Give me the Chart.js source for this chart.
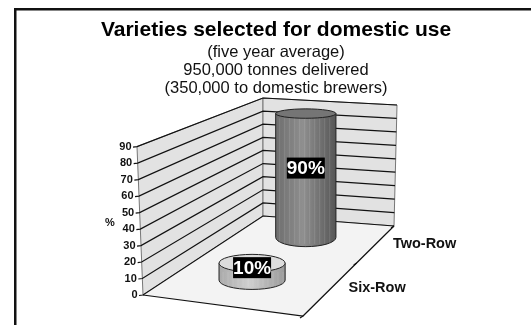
<!DOCTYPE html>
<html>
<head>
<meta charset="utf-8">
<style>
    html, body { margin: 0; padding: 0; background: #fff; }
    #wrap { position: absolute; left: 0; top: 0; width: 531px; height: 325px; }
</style>
<script src="https://cdn.jsdelivr.net/npm/chart.js@4/dist/chart.umd.min.js"></script>
</head>
<body>
<div id="wrap"><canvas id="chart"></canvas></div>
<script>
const categories = ['Six-Row', 'Two-Row'];
const shares = [10, 90];
const valueLabels = ['10%', '90%'];
const yMax = 90;
const yStep = 10;
const titleText = 'Varieties selected for domestic use';
const subtitleLines = ['(five year average)', '950,000 tonnes delivered', '(350,000 to domestic brewers)'];
const yAxisName = '%';

// Box corners of the 3D floor and walls (page pixels)
const backLeft = { x: 263, top: 98, bottom: 216 };
const backRight = { xTop: 397, top: 105, xBottom: 394, bottom: 226 };
const frontRight = { x: 303, y: 316 };
const leftTopX = 137;

function lerp(a, b, t) {
    return a + (b - a) * t;
}

// far half of the floor looks shorter
function warpDepth(d) {
    return d / (d + (1 - d) * 0.695);
}

function floorPoint(chart, lateral, w) {
    const yScale = chart.scales.y;
    const ax = chart.chartArea.left + 2, ay = yScale.getPixelForValue(0);
    const lx = lerp(ax, backLeft.x, w), ly = lerp(ay, backLeft.bottom, w);
    const rx = lerp(frontRight.x, backRight.xBottom, w), ry = lerp(frontRight.y, backRight.bottom, w);
    return { x: lerp(lx, rx, lateral), y: lerp(ly, ry, lateral) };
}

function drawWalls(chart) {
    const ctx = chart.ctx;
    const yScale = chart.scales.y;
    const fx0 = chart.chartArea.left + 2;
    const y0 = yScale.getPixelForValue(0), yTop = yScale.getPixelForValue(yMax);

    // side wall
    ctx.fillStyle = '#e2e2e2';
    ctx.strokeStyle = '#777';
    ctx.lineWidth = 1;
    ctx.beginPath();
    ctx.moveTo(leftTopX, yTop);
    ctx.lineTo(backLeft.x, backLeft.top);
    ctx.lineTo(backLeft.x, backLeft.bottom);
    ctx.lineTo(fx0, y0);
    ctx.closePath();
    ctx.fill();
    ctx.stroke();

    // back wall
    ctx.beginPath();
    ctx.moveTo(backLeft.x, backLeft.top);
    ctx.lineTo(backRight.xTop, backRight.top);
    ctx.lineTo(backRight.xBottom, backRight.bottom);
    ctx.lineTo(backLeft.x, backLeft.bottom);
    ctx.closePath();
    ctx.fill();
    ctx.stroke();

    // floor
    ctx.fillStyle = '#f3f3f3';
    ctx.beginPath();
    ctx.moveTo(fx0, y0);
    ctx.lineTo(frontRight.x, frontRight.y);
    ctx.lineTo(backRight.xBottom, backRight.bottom);
    ctx.lineTo(backLeft.x, backLeft.bottom);
    ctx.closePath();
    ctx.fill();

    // gridlines follow the y scale ticks round both walls
    ctx.strokeStyle = '#111';
    ctx.lineWidth = 1.2;
    yScale.ticks.forEach(tick => {
        const f = tick.value / yMax;
        const lx = lerp(fx0, leftTopX, f);
        const ly = yScale.getPixelForValue(tick.value);
        const by = lerp(backLeft.bottom, backLeft.top, f);
        const rx = lerp(backRight.xBottom, backRight.xTop, f);
        const ry = lerp(backRight.bottom, backRight.top, f);
        ctx.beginPath();
        ctx.moveTo(lx - 4, ly + 0.5);
        ctx.lineTo(lx, ly);
        ctx.lineTo(backLeft.x, by);
        ctx.lineTo(rx, ry);
        ctx.stroke();

        ctx.fillStyle = '#111';
        ctx.font = 'bold 11px "Liberation Sans"';
        ctx.textAlign = 'right';
        ctx.textBaseline = 'middle';
        ctx.fillText(String(tick.value), lx - 5.5, ly);
    });

    ctx.font = 'bold 11px "Liberation Sans"';
    ctx.textAlign = 'center';
    ctx.fillText(yAxisName, 110, 223);

    // front floor edges with the category ticks
    ctx.lineWidth = 1.2;
    ctx.beginPath();
    ctx.moveTo(fx0, y0);
    ctx.lineTo(frontRight.x, frontRight.y);
    ctx.lineTo(backRight.xBottom, backRight.bottom);
    ctx.stroke();
    [0, 0.5, 1].forEach(d => {
        const p = floorPoint(chart, 1, warpDepth(d));
        ctx.beginPath();
        ctx.moveTo(p.x, p.y);
        ctx.lineTo(p.x - 3, p.y + 2);
        ctx.stroke();
    });

    // category labels along the right floor edge
    const xScale = chart.scales.x;
    ctx.font = 'bold 14.5px "Liberation Sans"';
    ctx.textAlign = 'left';
    xScale.getLabels().forEach((label, i) => {
        const d = (xScale.getPixelForTick(i) - xScale.left) / xScale.width;
        const p = floorPoint(chart, 1, warpDepth(d));
        ctx.fillText(label, p.x + 16, p.y + 1.5);
    });
}

function drawCylinders(chart) {
    const ctx = chart.ctx;
    const meta = chart.getDatasetMeta(0);
    const xScale = chart.scales.x;
    const area = chart.chartArea;
    const sides = [['#a9a9a9', '#cfcfcf', '#9a9a9a'], ['#6d6d6d', '#8f8f8f', '#565656']];
    const tops = ['#dcdcdc', '#757575'];

    // draw far bars first
    meta.data.map((el, i) => i).reverse().forEach(i => {
        const el = meta.data[i];
        const w = warpDepth((el.x - xScale.left) / xScale.width);
        const c = floorPoint(chart, 0.485, w - 0.04 * (1 - w));
        const frac = (el.base - el.y) / (area.bottom - area.top);
        const h = frac * (172 - 59.4 * w);
        const rx = 35 - 6 * w;
        const ryB = 9.3;
        const ryT = 9.3 - 4.6 * frac;
        const topY = c.y - h;

        const grad = ctx.createLinearGradient(c.x - rx, 0, c.x + rx, 0);
        grad.addColorStop(0, sides[i][0]);
        grad.addColorStop(0.45, sides[i][1]);
        grad.addColorStop(1, sides[i][2]);
        ctx.fillStyle = grad;
        ctx.strokeStyle = '#222';
        ctx.lineWidth = 1;
        ctx.beginPath();
        ctx.moveTo(c.x - rx, topY);
        ctx.lineTo(c.x - rx, c.y);
        ctx.ellipse(c.x, c.y, rx, ryB, 0, Math.PI, 0, true);
        ctx.lineTo(c.x + rx, topY);
        ctx.closePath();
        ctx.fill();
        ctx.stroke();

        // faint vertical facets
        ctx.strokeStyle = 'rgba(255,255,255,0.12)';
        for (let sx = c.x - rx + 4; sx < c.x + rx - 2; sx += 5) {
            ctx.beginPath();
            ctx.moveTo(sx, topY + ryT);
            ctx.lineTo(sx, c.y + ryB * 0.7);
            ctx.stroke();
        }

        ctx.fillStyle = tops[i];
        ctx.strokeStyle = '#222';
        ctx.beginPath();
        ctx.ellipse(c.x, topY, rx, ryT, 0, 0, Math.PI * 2);
        ctx.fill();
        ctx.stroke();

        // value label on a black box
        const labelY = i === 0 ? topY + 4.5 : topY + 54.5;
        ctx.fillStyle = '#000';
        ctx.fillRect(c.x - 19, labelY - 10.5, 38, 21);
        ctx.fillStyle = '#fff';
        ctx.font = 'bold 19px "Liberation Sans"';
        ctx.textAlign = 'center';
        ctx.textBaseline = 'middle';
        ctx.fillText(valueLabels[i], c.x, labelY + 1);
    });
}

const frameAndBox = {
    id: 'frameAndBox',
    beforeDraw(chart) {
        const ctx = chart.ctx;
        ctx.save();
        ctx.fillStyle = '#fff';
        ctx.fillRect(0, 0, chart.width, chart.height);
        // only the top and left of the slide border are in view
        ctx.fillStyle = '#111';
        ctx.fillRect(14, 8, chart.width - 14, 2.5);
        ctx.fillRect(14, 8, 2.5, chart.height - 8);
        drawWalls(chart);
        ctx.restore();
    },
    afterDatasetsDraw(chart) {
        const ctx = chart.ctx;
        ctx.save();
        drawCylinders(chart);
        ctx.restore();
    }
};

new Chart(document.getElementById('chart'), {
    type: 'bar',
    data: {
        labels: categories,
        datasets: [{
            data: shares,
            backgroundColor: 'rgba(0,0,0,0)',
            borderWidth: 0
        }]
    },
    options: {
        responsive: true,
        maintainAspectRatio: false,
        animation: false,
        layout: { padding: { left: 96, right: 75, top: 0, bottom: 22 } },
        plugins: {
            legend: { display: false },
            tooltip: { enabled: false },
            title: {
                display: true,
                text: titleText,
                color: '#000',
                font: { family: '"Liberation Sans"', size: 21, weight: 'bold' },
                padding: { top: 18, bottom: 0 }
            },
            subtitle: {
                display: true,
                text: subtitleLines,
                color: '#111',
                font: { family: '"Liberation Sans"', size: 16.5, weight: 'normal', lineHeight: 1.1 },
                padding: { top: 0, bottom: 49 }
            }
        },
        scales: {
            x: {
                display: true,
                grid: { display: false },
                border: { display: false },
                ticks: { display: false }
            },
            y: {
                min: 0,
                max: yMax,
                grid: { display: false },
                border: { display: false },
                ticks: { display: false, stepSize: yStep },
                afterFit(scale) { scale.width = 45; }
            }
        }
    },
    plugins: [frameAndBox]
});
</script>
</body>
</html>
